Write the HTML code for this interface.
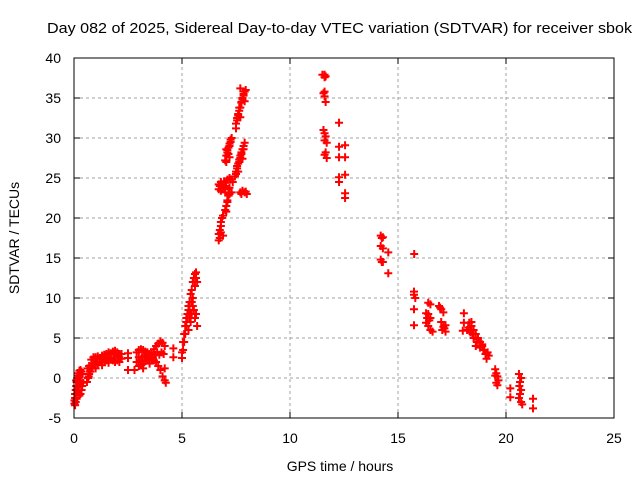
<!DOCTYPE html>
<html><head><meta charset="utf-8"><style>
body{margin:0;background:#fff}
svg{display:block;font-family:"Liberation Sans",sans-serif}
</style></head><body>
<svg id="chart" width="640" height="480" viewBox="0 0 640 480">
<rect width="640" height="480" fill="#fff"/>
<text x="47" y="33" font-size="15" textLength="585" lengthAdjust="spacingAndGlyphs">Day 082 of 2025, Sidereal Day-to-day VTEC variation (SDTVAR) for receiver sbok</text>
<g id="grid"></g>
<g id="ticks"></g>
<g id="marks"></g>
<rect x="74" y="58" width="540" height="360" fill="none" stroke="#000" stroke-width="1"/>
<text x="340" y="471" font-size="14" text-anchor="middle">GPS time / hours</text>
<text transform="translate(19,238) rotate(-90)" font-size="14" text-anchor="middle">SDTVAR / TECUs</text>
</svg>
<script>
const xTicks=[0,5,10,15,20,25];
const yTicks=[-5,0,5,10,15,20,25,30,35,40];
const passA=[[0.02,-2.8],[0.02,-3.2],[0.05,-2],[0.05,-2.5],[0.05,-3.4],[0.08,-1.5],[0.08,-3],[0.1,-1],[0.1,-2],[0.12,-0.5],[0.12,-2.6],[0.15,0],[0.15,-1.5],[0.18,0.3],[0.18,-1.8],[0.2,0.6],[0.2,-1],[0.22,-1.2],[0.25,0.9],[0.25,-0.5],[0.25,-2.2],[0.28,-0.8],[0.3,1],[0.3,-0.3],[0.3,-2],[0.35,0.8],[0.35,-1.5],[0.4,0.5],[0.42,-0.6],[0.38,-1],[0.1,-0.3],[0.2,0]];
const passB=[[0.6,-0.5],[0.62,1.2],[0.65,0],[0.68,0.2],[0.7,0.5],[0.7,1.5],[0.75,0.8],[0.75,0.8],[0.8,1.2],[0.8,2.3],[0.85,1.5],[0.85,1.2],[0.9,1.8],[0.9,2.6],[0.95,2.2],[1.0,1.6],[1.0,2.6],[1.05,2.0],[1.1,1.8],[1.1,2.7],[1.2,2.0],[1.2,2.5],[1.25,2.4],[1.3,2.0],[1.3,2.8],[1.4,2.1],[1.4,2.9],[1.45,2.6],[1.5,2.2],[1.5,3.0],[1.6,2.5],[1.6,3.2],[1.65,2.9],[1.7,2.4],[1.7,3.1],[1.8,2.2],[1.8,3.3],[1.85,3.0],[1.9,2.0],[1.9,3.4],[2.0,2.2],[2.0,3.2],[2.05,2.8],[2.1,2.0],[2.1,3.0],[2.2,2.4],[2.2,3.0],[1.0,1.2],[1.3,1.6],[1.6,1.9],[1.9,2.6],[2.1,2.6]];
const passC=[[2.5,3.1],[2.5,1.0],[2.5,2.5],[2.8,1.0],[4.6,3.7],[4.6,2.6]];
const passD=[[2.9,2.0],[2.9,3.2],[3.0,1.5],[3.0,2.6],[3.0,3.5],[3.05,2.2],[3.1,1.6],[3.1,3.6],[3.15,2.6],[3.2,1.8],[3.2,3.5],[3.25,2.8],[3.3,2.1],[3.3,3.3],[3.35,2.6],[3.4,2.3],[3.4,3.2],[3.45,2.7],[3.5,2.4],[3.5,3.0],[3.6,2.2],[3.6,3.2],[3.65,2.6],[3.7,2.2],[3.7,3.6],[3.75,2.9],[3.8,2.0],[3.8,4.0],[3.85,3.2],[3.9,1.5],[3.9,4.3],[3.95,2.9],[4.0,1.0],[4.0,4.6],[4.05,3.2],[4.1,0.2],[4.1,4.4],[4.15,3.0],[4.2,-0.3],[4.2,4.0],[4.2,1.2],[4.25,-0.6],[3.2,1.2],[3.5,1.8]];
const passE=[[5.0,2.5],[5.0,3.2],[5.05,3.5],[5.05,4.5],[5.1,4.5],[5.1,5.5],[5.15,5.5],[5.15,6.5],[5.2,6.5],[5.2,7.5],[5.2,7.0],[5.25,7.5],[5.25,8.0],[5.3,8.5],[5.3,6.0],[5.35,9.5],[5.35,7.5],[5.35,8.5],[5.4,10.5],[5.4,8.0],[5.4,7.0],[5.45,11.0],[5.45,8.0],[5.5,12.0],[5.5,9.0],[5.5,10.0],[5.55,12.5],[5.55,8.5],[5.6,13.0],[5.6,7.5],[5.6,11.5],[5.65,13.2],[5.65,8.0],[5.65,12.5],[5.7,12.0],[5.7,6.5],[5.3,9.0],[5.45,9.5]];
const passF=[[6.7,17.2],[6.7,18.0],[6.75,18.5],[6.8,19.0],[6.8,19.5],[6.85,20.0],[6.9,20.3],[6.9,17.8],[6.75,17.5],[6.8,18.2]];
const passG=[[6.7,24.2],[6.7,23.6],[6.75,24.0],[6.8,23.4],[6.8,24.5],[6.85,23.6],[6.9,23.8],[6.95,24.6],[7.0,24.4],[7.05,24.0],[7.1,24.8],[7.15,23.6],[7.2,25.0],[7.25,24.8],[7.3,23.2],[7.35,24.5],[7.0,23.2],[7.2,23.8]];
const passH=[[7.0,21.0],[7.05,21.5],[7.1,22.0],[7.15,22.8],[7.2,23.0],[7.1,22.2],[7.05,20.8]];
const passI=[[7.0,27.2],[7.05,27.8],[7.1,28.2],[7.15,28.8],[7.2,29.3],[7.25,29.8],[7.3,30.0],[7.1,28.5],[7.2,29.0],[7.05,27.0],[7.15,28.0],[7.25,29.5],[7.05,28.6],[7.2,27.6]];
const passJ=[[7.45,25.2],[7.5,25.8],[7.55,26.2],[7.6,26.8],[7.65,27.3],[7.7,27.8],[7.75,28.2],[7.8,28.6],[7.85,29.0],[7.9,29.4],[7.55,26.5],[7.65,27.0],[7.75,28.0],[7.85,28.6],[7.5,25.5],[7.7,27.5],[7.6,25.8],[7.8,27.4]];
const passK=[[7.7,23.2],[7.8,23.4],[7.9,23.2],[8.0,23.0],[7.75,23.0],[7.95,23.3]];
const passL=[[7.5,31.8],[7.55,32.2],[7.6,32.8],[7.65,33.4],[7.7,33.8],[7.75,34.4],[7.8,34.8],[7.85,35.3],[7.9,35.8],[7.95,36.0],[7.55,32.5],[7.65,33.8],[7.75,34.5],[7.85,35.5],[7.6,33.0],[7.8,35.0],[7.7,36.2],[7.5,31.2],[7.7,32.6],[7.9,34.6]];
const passM=[[11.5,37.9],[11.6,37.6],[11.6,37.9],[11.65,37.7],[11.55,35.6],[11.6,35.2],[11.65,34.5],[11.6,35.8],[12.27,31.9],[11.55,31.0],[11.6,30.6],[11.65,30.2],[11.6,29.7],[11.7,29.4],[12.27,28.9],[12.27,27.6],[12.55,29.1],[12.55,27.6],[11.6,27.9],[11.7,27.5],[11.65,28.2],[12.55,25.4],[12.27,25.1],[12.27,24.5],[12.55,23.1],[12.55,22.5]];
const passN=[[14.2,17.8],[14.25,17.5],[14.3,17.6],[14.2,16.5],[14.3,16.2],[14.55,15.7],[14.2,14.8],[14.25,14.5],[14.3,14.5],[14.55,13.1],[15.75,15.5],[15.74,10.8],[15.74,10.4],[15.74,8.6],[15.74,6.6],[15.8,10.0]];
const passO=[[16.4,9.4],[16.5,9.2],[16.9,9.0],[17.0,8.6],[17.1,8.2],[16.3,8.1],[16.4,8.0],[16.3,6.9],[16.4,6.5],[16.5,6.0],[16.6,5.8],[16.5,7.5],[17.0,7.0],[17.1,6.4],[17.2,5.8],[17.05,6.0],[17.15,6.2],[16.35,7.5],[16.45,7.2],[16.95,8.8],[17.2,6.6]];
const passP=[[18.05,8.1],[18.05,6.9],[18.0,5.9],[18.3,6.9],[18.4,6.5],[18.5,6.0],[18.6,5.5],[18.7,5.0],[18.8,4.5],[18.9,4.0],[19.0,3.5],[19.1,3.0],[19.1,2.4],[18.35,5.7],[18.5,5.0],[18.65,4.5],[18.8,3.8],[18.95,3.5],[19.05,3.0],[18.2,6.0],[18.45,5.5],[18.7,4.8],[18.9,4.2],[19.15,3.2],[18.25,6.3],[18.6,4.0],[19.2,2.8],[18.4,7.0]];
const passQ=[[19.5,1.1],[19.55,0.6],[19.6,0.2],[19.65,-0.3],[19.55,-0.6],[19.6,-0.9],[19.5,0.3]];
const passR=[[20.2,-1.3],[20.2,-2.4],[20.6,0.5],[20.65,-0.5],[20.7,-1.5],[20.6,-2.5],[20.65,-2.0],[20.7,-3.0],[20.75,-3.3],[20.62,-1.0],[20.7,0.0],[21.25,-2.6],[21.25,-3.8]];
const passes=[passA,passB,passC,passD,passE,passF,passG,passH,passI,passJ,passK,passL,passM,passN,passO,passP,passQ,passR];
const NS='http://www.w3.org/2000/svg';
const X0=74,X1=614,Y0=418,Y1=58,xmin=0,xmax=25,ymin=-5,ymax=40;
function xs(t){return X0+(t-xmin)/(xmax-xmin)*(X1-X0);}
function ys(v){return Y0-(v-ymin)/(ymax-ymin)*(Y0-Y1);}
const grid=document.getElementById('grid'),ticks=document.getElementById('ticks'),marks=document.getElementById('marks');
function mk(tag,at,parent){const e=document.createElementNS(NS,tag);for(const k in at)e.setAttribute(k,at[k]);parent.appendChild(e);return e;}
xTicks.forEach(t=>{
 const x=xs(t);
 if(t>xmin&&t<xmax){const g=mk('line',{x1:x,y1:Y0,x2:x,y2:Y1,stroke:'#a0a0a0','stroke-dasharray':'3,3'},grid);
 
 }
 const tk=mk('path',{d:`M${x},${Y0}v-6M${x},${Y1}v6`,stroke:'#000'},ticks);
 
 
 const l=mk('text',{x:x,y:443,'font-size':14,'text-anchor':'middle'},ticks);l.textContent=t;
 
 
});
yTicks.forEach(v=>{
 const y=ys(v);
 if(v>ymin&&v<ymax){const g=mk('line',{x1:X0,y1:y,x2:X1,y2:y,stroke:'#a0a0a0','stroke-dasharray':'3,3'},grid);
 
 }
 const tk=mk('path',{d:`M${X0},${y}h6M${X1},${y}h-6`,stroke:'#000'},ticks);
 
 
 const l=mk('text',{x:61,y:y+5,'font-size':14,'text-anchor':'end'},ticks);l.textContent=v;
 
 
});
passes.forEach(pass=>{
 pass.forEach(pt=>{
  const x=xs(pt[0]),y=ys(pt[1]);
  const p=mk('path',{d:`M${x-4},${y}h8M${x},${y-4}v8`,stroke:'#ff0000','stroke-width':2,fill:'none'},marks);
  
  
 });
});
</script>
</body></html>
